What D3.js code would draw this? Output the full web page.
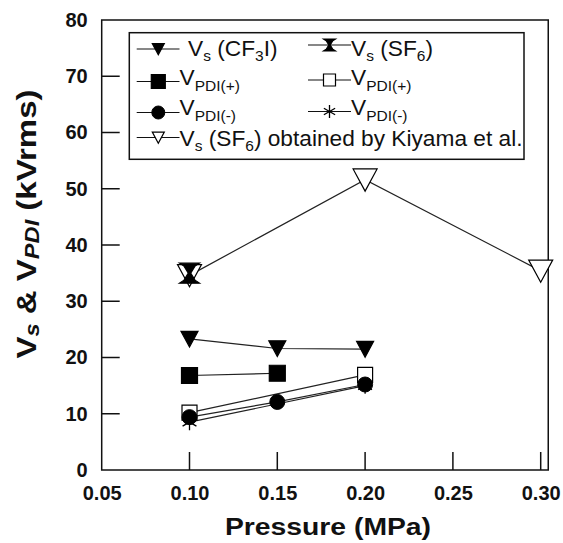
<!DOCTYPE html>
<html><head><meta charset="utf-8">
<script src="https://cdn.jsdelivr.net/npm/d3@7"></script>
<style>
html,body{margin:0;padding:0;background:#fff;}
svg{display:block;font-family:"Liberation Sans",Arial,Helvetica,sans-serif;}
</style></head>
<body><svg id="c" width="563" height="543"></svg>
<script>
// ---- data ----
const xTicks = [0.05, 0.10, 0.15, 0.20, 0.25, 0.30];
const yTicks = [0, 10, 20, 30, 40, 50, 60, 70, 80];
const xMax = 0.3043;

const vsCF3I_p = [0.10, 0.15, 0.20];
const vsCF3I_v = [23.3, 21.6, 21.5];

const vsSF6_p = [0.10];
const vsSF6_v = [35.0];

const pdiPosFilled_p = [0.10, 0.15];
const pdiPosFilled_v = [16.8, 17.2];

const pdiPosOpen_p = [0.10, 0.20];
const pdiPosOpen_v = [10.2, 16.9];

const pdiNegFilled_p = [0.10, 0.15, 0.20];
const pdiNegFilled_v = [9.4, 12.1, 15.2];

const pdiNegStar_p = [0.10, 0.20];
const pdiNegStar_v = [8.5, 15.0];

const kiyama_p = [0.10, 0.20, 0.30];
const kiyama_v = [34.6, 51.6, 35.4];

// ---- layout ----
const svg = d3.select("#c");
const L = 101.7, T = 20, B = 470;
const x = d3.scaleLinear().domain([0.05, 0.30]).range([L, 540.7]);
const y = d3.scaleLinear().domain([0, 80]).range([B, T]);
const R = x(xMax);

// marker shapes
function markerPath(type, s) {
  const h = s / 2;
  switch (type) {
    case "triDown": return `M${-h},${-h*0.9}L${h},${-h*0.9}L0,${h*0.95}Z`;
    case "square": return `M${-h},${-h}H${h}V${h}H${-h}Z`;
    case "hourglass": return `M${-h},${-h}H${h}L${h*0.55},${-h*0.7}L${h*0.12},0L${h*0.55},${h*0.7}L${h},${h}H${-h}L${-h*0.55},${h*0.7}L${-h*0.12},0L${-h*0.55},${-h*0.7}Z`;
    case "star": {
      const a = Math.PI/6;
      return `M0,${-h}V${h}` +
        `M${-h*Math.cos(a)},${-h*Math.sin(a)}L${h*Math.cos(a)},${h*Math.sin(a)}` +
        `M${-h*Math.cos(a)},${h*Math.sin(a)}L${h*Math.cos(a)},${-h*Math.sin(a)}`;
    }
  }
  return "";
}
function drawMarker(g, type, cx, cy, s, filled) {
  if (type === "circle") {
    g.append("circle").attr("cx", cx).attr("cy", cy).attr("r", s/2)
      .attr("fill", filled ? "#000" : "#fff").attr("stroke", "#000").attr("stroke-width", 1);
    return;
  }
  g.append("path").attr("transform", `translate(${cx},${cy})`).attr("d", markerPath(type, s))
    .attr("fill", type === "star" ? "none" : (filled ? "#000" : "#fff"))
    .attr("stroke", "#000").attr("stroke-width", type === "star" ? 1.3 : 1.2);
}

const series = [
  {p: kiyama_p, v: kiyama_v, type: "triDown", s: 24, filled: false},
  {p: vsCF3I_p, v: vsCF3I_v, type: "triDown", s: 17, filled: true},
  {p: pdiPosFilled_p, v: pdiPosFilled_v, type: "square", s: 16, filled: true},
  {p: pdiPosOpen_p, v: pdiPosOpen_v, type: "square", s: 15, filled: false},
  {p: pdiNegStar_p, v: pdiNegStar_v, type: "star", s: 16, filled: false},
  {p: pdiNegFilled_p, v: pdiNegFilled_v, type: "circle", s: 15, filled: true},
  {p: vsSF6_p, v: vsSF6_v, type: "hourglass", s: 20, filled: true},
];

// lines
const line = d3.line().x(d => x(d[0])).y(d => y(d[1]));
const gLines = svg.append("g");
series.forEach(sr => {
  const pts = sr.p.map((p, i) => [p, sr.v[i]]);
  if (pts.length > 1)
    gLines.append("path").attr("d", line(pts)).attr("fill", "none")
      .attr("stroke", "#222").attr("stroke-width", 1.2);
});

// axes
const xAxis = d3.axisBottom(x).tickValues(xTicks).tickSize(0).tickPadding(16)
  .tickFormat(d3.format(".2f"));
const gx = svg.append("g").attr("transform", `translate(0,${B})`).call(xAxis);
gx.select(".domain").remove();
gx.selectAll("text").attr("font-size", 20).attr("font-weight", "bold").attr("fill", "#111")
  .attr("font-family", "Liberation Sans, Arial, sans-serif");

const yAxis = d3.axisLeft(y).tickValues(yTicks).tickSize(0).tickPadding(14);
const gy = svg.append("g").attr("transform", `translate(${L},0)`).call(yAxis);
gy.select(".domain").remove();
gy.selectAll("text").attr("font-size", 20).attr("font-weight", "bold").attr("fill", "#111")
  .attr("font-family", "Liberation Sans, Arial, sans-serif");

// inward tick marks
const gt = svg.append("g").attr("stroke", "#111").attr("stroke-width", 1.5);
xTicks.slice(1).forEach(t => gt.append("line").attr("x1", x(t)).attr("x2", x(t)).attr("y1", B).attr("y2", B - 18));
yTicks.slice(1, -1).forEach(t => gt.append("line").attr("x1", L).attr("x2", L + 18).attr("y1", y(t)).attr("y2", y(t)));

// frame
svg.append("rect").attr("x", L).attr("y", T).attr("width", R - L).attr("height", B - T)
  .attr("fill", "none").attr("stroke", "#111").attr("stroke-width", 1.5);

// markers
const gM = svg.append("g");
series.forEach(sr => sr.p.forEach((p, i) => drawMarker(gM, sr.type, x(p), y(sr.v[i]), sr.s, sr.filled)));

// axis titles
svg.append("text").attr("x", 328).attr("y", 535).attr("text-anchor", "middle")
  .attr("font-size", 24).attr("font-weight", "bold").attr("fill", "#111")
  .attr("transform", "translate(328,0) scale(1.18,1) translate(-328,0)")
  .text("Pressure (MPa)");

const yt = svg.append("text").attr("text-anchor", "middle").attr("font-size", 28)
  .attr("font-weight", "bold").attr("fill", "#111")
  .attr("transform", "translate(36,224) rotate(-90) scale(1.18,1)");
yt.append("tspan").text("V");
yt.append("tspan").attr("font-size", 20).attr("font-style", "italic").attr("dy", 3).text("s");
yt.append("tspan").attr("dy", -3).text(" & V");
yt.append("tspan").attr("font-size", 20).attr("font-style", "italic").attr("dy", 3).text("PDI");
yt.append("tspan").attr("dy", -3).text(" (kVrms)");

// legend
const lg = svg.append("g");
lg.append("rect").attr("x", 129.3).attr("y", 32.7).attr("width", 524 - 129.3).attr("height", 159.3 - 32.7)
  .attr("fill", "#fff").attr("stroke", "#111").attr("stroke-width", 1.5);

const legendItems = [
  {col: 0, ly: 49, type: "triDown", s: 12, filled: true, ty: 56, tx: 188, parts: [["V", 0], ["s", 1], [" (CF", 0], ["3", 1], ["I)", 0]]},
  {col: 1, ly: 45, type: "hourglass", s: 12, filled: true, ty: 56, parts: [["V", 0], ["s", 1], [" (SF", 0], ["6", 1], [")", 0]]},
  {col: 0, ly: 81.5, type: "square", s: 14, filled: true, ty: 85, parts: [["V", 0], ["PDI(+)", 2]]},
  {col: 1, ly: 80, type: "square", s: 12, filled: false, ty: 85, parts: [["V", 0], ["PDI(+)", 2]]},
  {col: 0, ly: 112.5, type: "circle", s: 13, filled: true, ty: 115, parts: [["V", 0], ["PDI(-)", 2]]},
  {col: 1, ly: 111.5, type: "star", s: 13, filled: false, ty: 115, parts: [["V", 0], ["PDI(-)", 2]]},
  {col: 0, ly: 137.5, type: "triDown", s: 12, filled: false, ty: 146, parts: [["V", 0], ["s", 1], [" (SF", 0], ["6", 1], [") obtained by Kiyama et al.", 0]]},
];
const cols = [{x1: 136.7, x2: 179.5, mx: 158.3, tx: 179.5}, {x1: 308, x2: 351, mx: 329.5, tx: 351}];
legendItems.forEach(it => {
  const c = cols[it.col];
  lg.append("line").attr("x1", c.x1).attr("x2", c.x2).attr("y1", it.ly).attr("y2", it.ly)
    .attr("stroke", "#111").attr("stroke-width", 1.2);
  drawMarker(lg, it.type, c.mx, it.ly, it.s, it.filled);
  const t = lg.append("text").attr("x", it.tx || c.tx).attr("y", it.ty).attr("font-size", 22.7)
    .attr("fill", "#111").attr("xml:space", "preserve");
  let cur = 0;
  it.parts.forEach(([str, sub]) => {
    const target = sub === 1 ? 5 : (sub === 2 ? 6 : 0);
    t.append("tspan").attr("font-size", sub ? 15.5 : 22.7).attr("dy", target - cur).text(str);
    cur = target;
  });
});
</script></body></html>
